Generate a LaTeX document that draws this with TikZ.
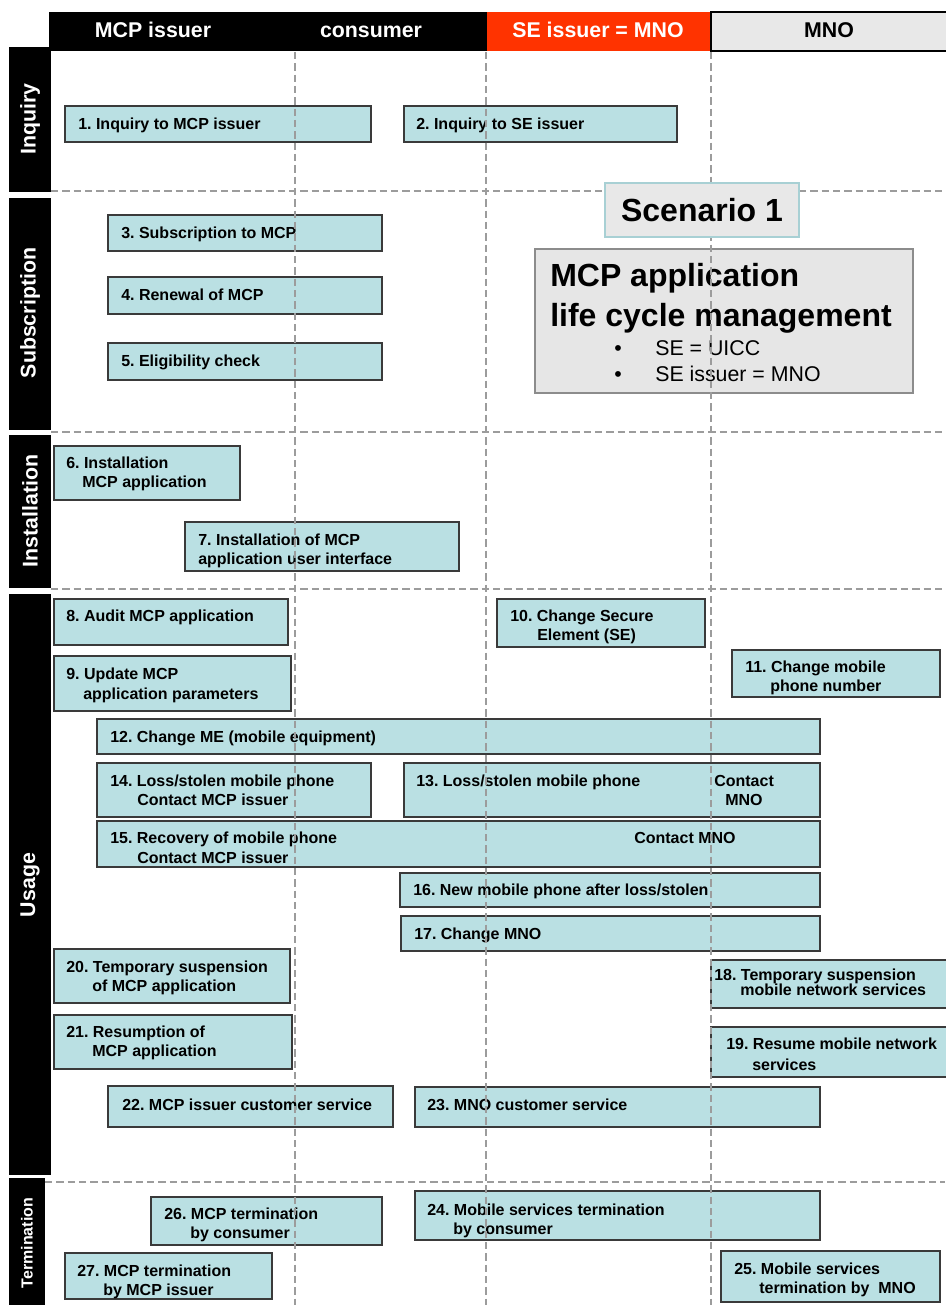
\documentclass[tikz,border=0pt]{standalone}
\usepackage{fontspec}
\setmainfont{Liberation Sans}
\usetikzlibrary{fit}
\frenchspacing
\definecolor{boxfill}{HTML}{BAE0E3}
\definecolor{boxline}{HTML}{3A3A3A}
\definecolor{dashgray}{HTML}{9C9C9C}
\definecolor{sered}{HTML}{FF3300}
\definecolor{mnogray}{HTML}{E8E8E8}
\definecolor{panelgray}{HTML}{E6E6E6}
\definecolor{scenline}{HTML}{A8D0D4}
\tikzset{
  bx/.style={draw=boxline, line width=1.1pt, fill=boxfill, inner sep=0pt},
  bt/.style={font=\bfseries\fontsize{12}{14}\selectfont, anchor=mid west, inner sep=0pt, yshift=-1.5pt},
  lane/.style={draw=dashgray, line width=1.5pt, dash pattern=on 5.5pt off 3pt},
  sidebar/.style={fill=black, draw=none, inner sep=0pt},
  sidetxt/.style={text=white, font=\bfseries\fontsize{16}{18}\selectfont, rotate=90, inner sep=0pt},
  headtxt/.style={font=\bfseries\fontsize{16}{18}\selectfont, inner sep=0pt, anchor=base},
  bigtxt/.style={font=\bfseries\fontsize{24}{28}\selectfont, anchor=mid west, inner sep=0pt},
  bultxt/.style={font=\fontsize{16}{18}\selectfont, anchor=mid west, inner sep=0pt},
}
% a box spanning (x1,y1)-(x2,y2), in pixel-like units
\newcommand{\ibox}[5]{\node[bx, fit={(#2,#3) (#4,#5)}] (#1) {};}
\begin{document}
\begin{tikzpicture}[x=0.75pt, y=-0.75pt]
\useasboundingbox (0,0) rectangle (945,1305);

% column headers
\node[fill=black, inner sep=0, fit={(49,12) (487,51)}] (hblack) {};
\node[fill=sered, inner sep=0, fit={(487,12) (711,51)}] (hred) {};
\node[fill=mnogray, draw=black, line width=1pt, inner sep=0, fit={(711,12) (950,51)}] (hgray) {};
\node[headtxt, text=white] (h1) at (153,38) {MCP issuer};
\node[headtxt, text=white] (h2) at (371,38) {consumer};
\node[headtxt, text=white] (h3) at (598,38) {SE issuer = MNO};
\node[headtxt, text=black] (h4) at (829,38) {MNO};

% phase bars
\node[sidebar, fit={(9,47) (51,192)}] (p1) {};
\node[sidebar, fit={(9,198) (51,430)}] (p2) {};
\node[sidebar, fit={(9,435) (51,588)}] (p3) {};
\node[sidebar, fit={(9,594) (51,1175)}] (p4) {};
\node[sidebar, fit={(9,1178) (45,1310)}] (p5) {};
\node[sidetxt] (s1) at (30,119) {Inquiry};
\node[sidetxt] (s2) at (30,313) {Subscription};
\node[sidetxt] (s3) at (30,511) {Installation};
\node[sidetxt] (s4) at (30,885) {Usage};
\node[sidetxt, font=\bfseries\fontsize{12}{14}\selectfont] (s5) at (27,1243) {Termination};

% activity boxes
\ibox{b1}{65}{106}{371}{142}
\ibox{b2}{404}{106}{677}{142}
\ibox{b3}{108}{215}{382}{251}
\ibox{b4}{108}{277}{382}{314}
\ibox{b5}{108}{343}{382}{380}
\ibox{b6}{54}{446}{240}{500}
\ibox{b7}{185}{522}{459}{571}
\ibox{b8}{54}{599}{288}{645}
\ibox{b10}{497}{599}{705}{647}
\ibox{b9}{54}{656}{291}{711}
\ibox{b11}{732}{650}{940}{697}
\ibox{b12}{97}{719}{820}{754}
\ibox{b14}{97}{763}{371}{817}
\ibox{b13}{404}{763}{820}{817}
\ibox{b15}{97}{821}{820}{867}
\ibox{b16}{400}{873}{820}{907}
\ibox{b17}{401}{916}{820}{951}
\ibox{b20}{54}{949}{290}{1003}
\ibox{b18}{711}{960}{950}{1008}
\ibox{b21}{54}{1015}{292}{1069}
\ibox{b19}{711}{1027}{950}{1077}
\ibox{b22}{108}{1086}{393}{1127}
\ibox{b23}{415}{1087}{820}{1127}
\ibox{b26}{151}{1197}{382}{1245}
\ibox{b24}{415}{1191}{820}{1240}
\ibox{b27}{65}{1253}{272}{1299}
\ibox{b25}{721}{1251}{940}{1302}

% box texts
\node[bt] (t1) at (78,124) {1. Inquiry to MCP issuer};
\node[bt] (t2) at (416,124) {2. Inquiry to SE issuer};
\node[bt] (t3) at (121,233) {3. Subscription to MCP};
\node[bt] (t4) at (121,295) {4. Renewal of MCP};
\node[bt] (t5) at (121,361) {5. Eligibility check};
\node[bt] (t6a) at (66,463) {6. Installation};
\node[bt] (t6b) at (82,482) {MCP application};
\node[bt] (t7a) at (198,540) {7. Installation of MCP};
\node[bt] (t7b) at (198,559) {application user interface};
\node[bt] (t8) at (66,616) {8. Audit MCP application};
\node[bt] (t10a) at (510,616) {10. Change Secure};
\node[bt] (t10b) at (537,635) {Element (SE)};
\node[bt] (t9a) at (66,674) {9. Update MCP};
\node[bt] (t9b) at (83,694) {application parameters};
\node[bt] (t11a) at (745,667) {11. Change mobile};
\node[bt] (t11b) at (770,686) {phone number};
\node[bt] (t12) at (110,737) {12. Change ME (mobile equipment)};
\node[bt] (t14a) at (110,781) {14. Loss/stolen mobile phone};
\node[bt] (t14b) at (137,800) {Contact MCP issuer};
\node[bt] (t13a) at (416,781) {13. Loss/stolen mobile phone};
\node[bt] (t13b) at (714,781) {Contact};
\node[bt] (t13c) at (725,800) {MNO};
\node[bt] (t15a) at (110,838) {15. Recovery of mobile phone};
\node[bt] (t15b) at (137,858) {Contact MCP issuer};
\node[bt] (t15c) at (634,838) {Contact MNO};
\node[bt] (t16) at (413,890) {16. New mobile phone after loss/stolen};
\node[bt] (t17) at (414,934) {17. Change MNO};
\node[bt] (t20a) at (66,967) {20. Temporary suspension};
\node[bt] (t20b) at (92,986) {of MCP application};
\node[bt] (t18a) at (714,975) {18. Temporary suspension};
\node[bt] (t18b) at (740,990) {mobile network services};
\node[bt] (t21a) at (66,1032) {21. Resumption of};
\node[bt] (t21b) at (92,1051) {MCP application};
\node[bt] (t19a) at (726,1044) {19. Resume mobile network};
\node[bt] (t19b) at (752,1065) {services};
\node[bt] (t22) at (122,1105) {22. MCP issuer customer service};
\node[bt] (t23) at (427,1105) {23. MNO customer service};
\node[bt] (t26a) at (164,1214) {26. MCP termination};
\node[bt] (t26b) at (190,1233) {by consumer};
\node[bt] (t24a) at (427,1210) {24. Mobile services termination};
\node[bt] (t24b) at (453,1229) {by consumer};
\node[bt] (t27a) at (77,1271) {27. MCP termination};
\node[bt] (t27b) at (103,1290) {by MCP issuer};
\node[bt] (t25a) at (734,1269) {25. Mobile services};
\node[bt] (t25b) at (759,1288) {termination by~~MNO};

% scenario description panel
\node[fill=panelgray, draw=black!45, line width=1.1pt, inner sep=0, fit={(535,249) (913,393)}] (panel) {};
\node[bigtxt] (pt1) at (550,283) {MCP application};
\node[bigtxt] (pt2) at (550,323) {life cycle management};
\node[bultxt] (pb1) at (614,352) {•};
\node[bultxt] (pb2) at (614,378) {•};
\node[bultxt] (pt3) at (655,352) {SE = UICC};
\node[bultxt] (pt4) at (655,378) {SE issuer = MNO};

% swim-lane separators
\coordinate (v1a) at (295,52);  \coordinate (v1b) at (295,1305);
\coordinate (v2a) at (486,52);  \coordinate (v2b) at (486,1305);
\coordinate (v3a) at (711,52);  \coordinate (v3b) at (711,1305);
\draw[lane] (v1a) -- (v1b);
\draw[lane] (v2a) -- (v2b);
\draw[lane] (v3a) -- (v3b);
\coordinate (r1a) at (51,191);   \coordinate (r1b) at (945,191);
\coordinate (r2a) at (51,432);   \coordinate (r2b) at (945,432);
\coordinate (r3a) at (51,589);   \coordinate (r3b) at (945,589);
\coordinate (r4a) at (45,1182);  \coordinate (r4b) at (945,1182);
\draw[lane] (r1a) -- (r1b);
\draw[lane] (r2a) -- (r2b);
\draw[lane] (r3a) -- (r3b);
\draw[lane] (r4a) -- (r4b);

% scenario title
\node[fill=mnogray, draw=scenline, line width=1pt, inner sep=0, fit={(605,183) (799,237)}] (scen) {};
\node[font=\bfseries\fontsize{24}{28}\selectfont, inner sep=0] (scent) at (702,210) {Scenario 1};
\end{tikzpicture}
\end{document}
